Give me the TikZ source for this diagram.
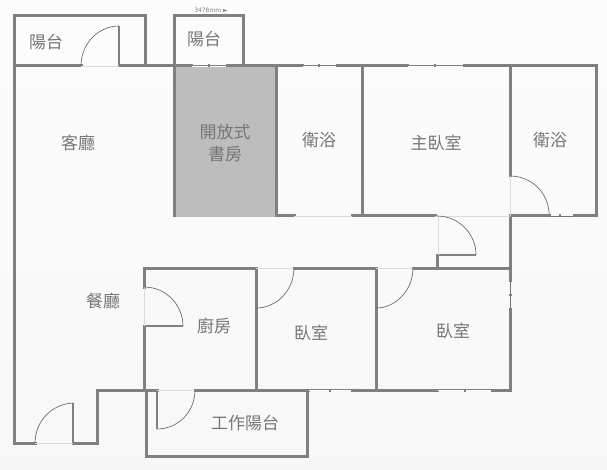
\documentclass[tikz,border=0pt]{standalone}
\usepackage{fontspec}
\setmainfont{Noto Sans CJK TC}
\newfontfamily\dimfont{DejaVu Sans}
\usepackage{tikz}
\definecolor{wallgray}{HTML}{808080}
\definecolor{labelgray}{HTML}{767676}
\tikzset{
  wall/.style={draw=wallgray,line width=3pt,line cap=rect,line join=miter},
  leaf/.style={draw=wallgray,line width=2.2pt},
  swing/.style={draw=wallgray!85!black,line width=0.7pt},
  gap/.style={draw=black!14,line width=0.7pt},
  pane/.style={draw=wallgray,line width=0.8pt,double=white,double distance=0.8pt},
  thinpane/.style={draw=wallgray!90!black,line width=0.9pt},
  tick/.style={draw=wallgray,line width=1.6pt},
  roomlabel/.style={text=labelgray,font=\fontsize{17}{20}\selectfont,inner sep=0pt}
}
\begin{document}
\begin{tikzpicture}[x=1pt,y=-1pt]
  \shade[top color=white!99!black,bottom color=black!3] (0,0) rectangle (607,470);
  \useasboundingbox (0,0) rectangle (607,470);
  \fill[black!26] (174,67) rectangle (276,217);
  \draw[wall] (14,443) -- (14,16) -- (145,16) -- (145,66);
  \draw[wall] (14,66) -- (81,66);
  \draw[wall] (119,66) -- (191,66);
  \draw[wall] (174,216) -- (174,16) -- (243,16) -- (243,66);
  \draw[wall] (227,66) -- (302,66);
  \draw[wall] (337,66) -- (407,66);
  \draw[wall] (464,66) -- (596,66) -- (596,216) -- (574,216);
  \draw[wall] (276,66) -- (276,216) -- (294,216);
  \draw[wall] (362,66) -- (362,216);
  \draw[wall] (352,216) -- (435,216);
  \draw[wall] (510,66) -- (510,176);
  \draw[wall] (510,216) -- (549,216);
  \draw[wall] (510,219) -- (510,280);
  \draw[wall] (510,309) -- (510,390) -- (492,390);
  \draw[wall] (437,390) -- (352,390);
  \draw[wall] (308,390) -- (195,390);
  \draw[wall] (157,390) -- (97,390) -- (97,443) -- (73,443);
  \draw[wall] (14,443) -- (35,443);
  \draw[wall] (144,287) -- (144,268) -- (256,268) -- (256,390);
  \draw[wall] (144,326) -- (144,390);
  \draw[wall] (294,268) -- (376,268);
  \draw[wall] (376,268) -- (376,390);
  \draw[wall] (413,268) -- (510,268);
  \draw[wall] (437,255) -- (437,268);
  \draw[wall] (146,390) -- (146,456) -- (307,456) -- (307,390);
  \foreach \xa/\ya/\xb/\yb in {256/268/256/308,376/268/376/308,119/26/119/66,73/403/73/443,157/390/157/429,144/326/183/326,437/255/476/255}
    \draw[leaf] (\xa,\ya) -- (\xb,\yb);
  \foreach \xa/\ya/\xb/\yb in {81/66/119/66,35/443/73/443,294/216/352/216,294/268/256/268,376/268/413/268,157/390/195/390,144/287/144/326,510/176/510/216,438/216/438/255,435/216/510/216}
    \draw[gap] (\xa,\ya) -- (\xb,\yb);
  \draw[swing] (119,26) .. controls (98,26) and (81,44) .. (81,66);
  \draw[swing] (73,403) .. controls (52,404) and (35,421) .. (35,443);
  \draw[swing] (510,176) .. controls (532,176) and (549,194) .. (549,214);
  \draw[swing] (437,216) .. controls (459,216) and (476,234) .. (476,255);
  \draw[swing] (294,268) .. controls (294,290) and (277,308) .. (256,308);
  \draw[swing] (413,268) .. controls (413,290) and (396,308) .. (376,308);
  \draw[swing] (144,287) .. controls (166,287) and (183,305) .. (183,326);
  \draw[swing] (195,390) .. controls (195,412) and (178,429) .. (157,429);
  \foreach \xa/\xm/\xb/\yw in {191/209/227/66,302/319/337/66,407/435/464/66,308/330/352/390,437/465/492/390} {
    \draw[pane] (\xa,\yw) -- (\xb,\yw);
    \foreach \xt in {\xa,\xm,\xb}
      \draw[tick] (\xt,\yw-1.5) -- (\xt,\yw+1.5);
  }
  \draw[thinpane] (549,216) -- (574,216);
  \foreach \xt in {549,560,574}
    \draw[tick] (\xt,214.5) -- (\xt,217.5);
  \draw[thinpane] (510,280) -- (510,309);
  \foreach \yt in {280,295,309}
    \draw[tick] (508.5,\yt) -- (511.5,\yt);
  \node[roomlabel] (balconyA) at (46,42) {陽台};
  \node[roomlabel] (balconyB) at (204,39) {陽台};
  \node[roomlabel] (living) at (78,143) {客廳};
  \node[roomlabel] (studyA) at (225,132) {開放式};
  \node[roomlabel] (studyB) at (225,154) {書房};
  \node[roomlabel] (bathA) at (319,140) {衛浴};
  \node[roomlabel] (master) at (436,143) {主臥室};
  \node[roomlabel] (bathB) at (550,140) {衛浴};
  \node[roomlabel] (dining) at (103,301) {餐廳};
  \node[roomlabel] (kitchen) at (214,326) {廚房};
  \node[roomlabel] (bedA) at (311,333) {臥室};
  \node[roomlabel] (bedB) at (453,331) {臥室};
  \node[roomlabel] (utility) at (245,423) {工作陽台};
  \node[text=black!50,font=\dimfont\fontsize{6}{7}\selectfont,inner sep=0pt] (dimension) at (211,10) {3478mm ►};
\end{tikzpicture}
\end{document}
